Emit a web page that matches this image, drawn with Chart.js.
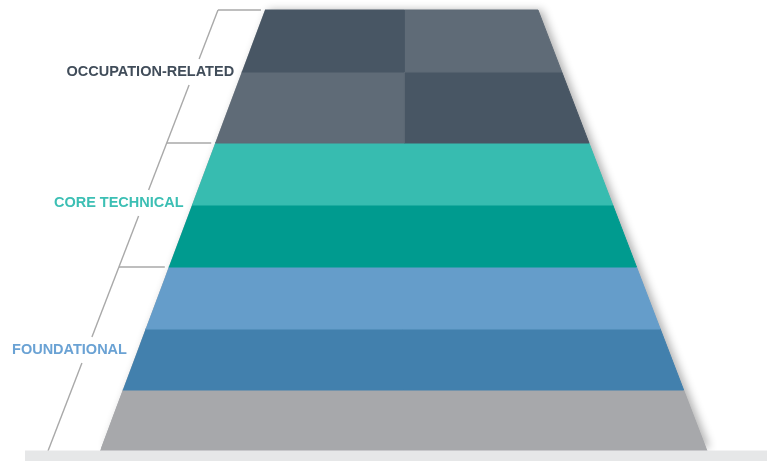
<!DOCTYPE html>
<html>
<head>
<meta charset="utf-8">
<script src="https://cdn.jsdelivr.net/npm/chart.js@4/dist/chart.umd.min.js"></script>
<style>
    body { margin: 0; background: #fff; }
    #caixa { width: 767px; height: 461px; position: relative; }
</style>
</head>
<body>
<div id="caixa"><canvas id="piramide"></canvas></div>
<script>
// niveis da piramide (de cima para baixo)
var grupos = ["OCCUPATION-RELATED", "CORE TECHNICAL", "FOUNDATIONAL"];
var coresGrupos = ["#414d5a", "#3cbfb4", "#6aa2d4"];

// limites das faixas (eixo y, de cima para baixo)
var limitesFaixas = [10, 72, 143, 205, 267, 329, 390, 451];
// cor de cada faixa; as duas primeiras sao divididas em duas metades
var coresFaixas = [
    ["#485664", "#5f6b77"],
    ["#5f6b77", "#485664"],
    ["#37bcb0"],
    ["#009b8f"],
    ["#659dca"],
    ["#4280ad"],
    ["#a7a8ab"]
];
// faixa onde comeca cada grupo
var inicioGrupos = [0, 2, 4];

// bordas da piramide: [esquerda, direita] no topo e na base
var bordaTopo = [265, 538];
var bordaBase = [100, 707];
var divisao = 404;

// linha do colchete lateral (topo, base)
var colcheteX = [218, 48];

var topo = limitesFaixas[0];
var base = limitesFaixas[limitesFaixas.length - 1];

function xEsq(y) {
    return bordaTopo[0] + (y - topo) * (bordaBase[0] - bordaTopo[0]) / (base - topo);
}
function xDir(y) {
    return bordaTopo[1] + (y - topo) * (bordaBase[1] - bordaTopo[1]) / (base - topo);
}
function xColchete(y) {
    return colcheteX[0] + (y - topo) * (colcheteX[1] - colcheteX[0]) / (base - topo);
}

function poligono(pts, cor) {
    return {
        data: pts,
        showLine: true,
        fill: false,
        borderColor: cor,
        backgroundColor: cor,
        borderWidth: 1,
        pointRadius: 0,
        poligono: true
    };
}
function linha(pts) {
    return {
        data: pts,
        showLine: true,
        fill: false,
        borderColor: "#a9a9a9",
        borderWidth: 1.4,
        pointRadius: 0
    };
}

var datasets = [];

// faixa cinza do chao
datasets.push(poligono([
    { x: 25, y: base }, { x: 767, y: base }, { x: 767, y: 461 }, { x: 25, y: 461 }
], "#e6e7e8"));

// faixas da piramide
for (var i = 0; i < coresFaixas.length; i++) {
    var y1 = limitesFaixas[i];
    var y2 = limitesFaixas[i + 1];
    if (coresFaixas[i].length == 2) {
        datasets.push(poligono([
            { x: xEsq(y1), y: y1 }, { x: divisao, y: y1 }, { x: divisao, y: y2 }, { x: xEsq(y2), y: y2 }
        ], coresFaixas[i][0]));
        datasets.push(poligono([
            { x: divisao, y: y1 }, { x: xDir(y1), y: y1 }, { x: xDir(y2), y: y2 }, { x: divisao, y: y2 }
        ], coresFaixas[i][1]));
    } else {
        datasets.push(poligono([
            { x: xEsq(y1), y: y1 }, { x: xDir(y1), y: y1 }, { x: xDir(y2), y: y2 }, { x: xEsq(y2), y: y2 }
        ], coresFaixas[i][0]));
    }
}

// colchete: tracos horizontais no inicio de cada grupo
inicioGrupos.forEach(function (f) {
    var y = limitesFaixas[f];
    datasets.push(linha([{ x: xColchete(y), y: y }, { x: xEsq(y) - 4, y: y }]));
});

// posicao vertical dos rotulos
var rotuloY = [72, 203, 350];
var vao = 13;
var cortes = [topo];
rotuloY.forEach(function (y) { cortes.push(y - vao); cortes.push(y + vao); });
cortes.push(base);
for (var k = 0; k < cortes.length; k += 2) {
    datasets.push(linha([
        { x: xColchete(cortes[k]), y: cortes[k] }, { x: xColchete(cortes[k + 1]), y: cortes[k + 1] }
    ]));
}

var pluginPiramide = {
    id: "piramide",
    beforeDatasetsDraw: function (chart) {
        var ctx = chart.ctx;
        var sx = chart.scales.x, sy = chart.scales.y;
        // sombra suave no lado direito
        ctx.save();
        ctx.shadowColor = "rgba(0,0,0,0.3)";
        ctx.shadowBlur = 8;
        ctx.shadowOffsetX = 4;
        ctx.fillStyle = "#a7a8ab";
        ctx.beginPath();
        ctx.moveTo(sx.getPixelForValue(xEsq(topo)), sy.getPixelForValue(topo));
        ctx.lineTo(sx.getPixelForValue(xDir(topo)), sy.getPixelForValue(topo));
        ctx.lineTo(sx.getPixelForValue(xDir(base - 3)), sy.getPixelForValue(base - 3));
        ctx.lineTo(sx.getPixelForValue(xEsq(base - 3)), sy.getPixelForValue(base - 3));
        ctx.closePath();
        ctx.fill();
        ctx.restore();
    },
    beforeDatasetDraw: function (chart, args) {
        var ds = chart.data.datasets[args.index];
        if (!ds.poligono) return;
        var pts = args.meta.data;
        var ctx = chart.ctx;
        ctx.save();
        ctx.fillStyle = ds.backgroundColor;
        ctx.beginPath();
        pts.forEach(function (p, j) {
            if (j == 0) ctx.moveTo(p.x, p.y); else ctx.lineTo(p.x, p.y);
        });
        ctx.closePath();
        ctx.fill();
        ctx.restore();
    },
    afterDatasetsDraw: function (chart) {
        var ctx = chart.ctx;
        var sx = chart.scales.x, sy = chart.scales.y;
        ctx.save();
        ctx.font = "bold 14.5px 'Liberation Sans', Arial, sans-serif";
        ctx.textAlign = "right";
        ctx.textBaseline = "middle";
        grupos.forEach(function (g, i) {
            ctx.fillStyle = coresGrupos[i];
            ctx.fillText(g, sx.getPixelForValue(xColchete(rotuloY[i]) + 40), sy.getPixelForValue(rotuloY[i]));
        });
        ctx.restore();
    }
};

new Chart(piramide.getContext("2d"), {
    type: "scatter",
    data: { datasets: datasets },
    options: {
        responsive: true,
        maintainAspectRatio: false,
        animation: false,
        layout: { padding: 0 },
        scales: {
            x: { type: "linear", min: 0, max: 767, display: false },
            y: { type: "linear", min: 0, max: 461, reverse: true, display: false }
        },
        plugins: {
            legend: { display: false },
            tooltip: { enabled: false }
        }
    },
    plugins: [pluginPiramide]
});
</script>
</body>
</html>
